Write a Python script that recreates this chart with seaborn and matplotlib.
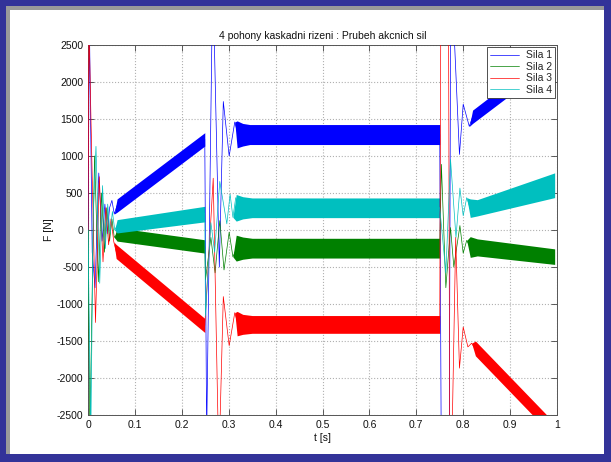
import numpy as np
import pandas as pd
import matplotlib
matplotlib.use("Agg")
import matplotlib.pyplot as plt
import seaborn as sns
from matplotlib.patches import Rectangle

# ---------------- data ----------------
series_names = ["Sila 1", "Sila 2", "Sila 3", "Sila 4"]
series_colors = ["#0000FF", "#008000", "#FF0000", "#00BFBF"]

x_ticks = [0, 0.1, 0.2, 0.3, 0.4, 0.5, 0.6, 0.7, 0.8, 0.9, 1]
x_tick_labels = ["0", "0.1", "0.2", "0.3", "0.4", "0.5", "0.6", "0.7", "0.8", "0.9", "1"]
y_ticks = [-2500, -2000, -1500, -1000, -500, 0, 500, 1000, 1500, 2000, 2500]

# centre traces (thin lines, transients)
sila1_t = [0.000, 0.003, 0.009, 0.015, 0.023, 0.030, 0.036, 0.041, 0.046, 0.051, 0.056, 0.062,
           0.249, 0.253, 0.266, 0.280, 0.2885, 0.301, 0.313, 0.320,
           0.750, 0.7535, 0.770, 0.7735, 0.7755, 0.792, 0.800, 0.813, 0.820, 0.995]
sila1_f = [0, 2800, -300, -780, 770, -150, 350, -50, 300, 400, 216, 330,
           1225, -2800, 3500, -500, 1736, 1000, 1460, 1290,
           1290, -3400, -3400, 3400, 3400, 1021, 1700, 1400, 1530, 2375]

sila2_t = [0.000, 0.004, 0.010, 0.014, 0.022, 0.029, 0.035, 0.040, 0.046, 0.051, 0.056, 0.062,
           0.249, 0.2505, 0.262, 0.271, 0.281, 0.290, 0.301, 0.309, 0.317,
           0.750, 0.7535, 0.763, 0.773, 0.780, 0.793, 0.800, 0.8075, 0.815, 0.995]
sila2_f = [0, -2800, -400, 1000, -700, 500, -300, 300, -150, 150, -100, -60,
           -222, -670, -100, -580, 127, -540, -29, -363, -245,
           -245, 887, -780, 33, -500, 60, -313, -140, -230, -360]

sila3_t = [0.000, 0.002, 0.008, 0.016, 0.024, 0.032, 0.038, 0.044, 0.049, 0.055, 0.060,
           0.249, 0.267, 0.279, 0.2885, 0.301, 0.313, 0.320,
           0.750, 0.7525, 0.7685, 0.7715, 0.7745, 0.784, 0.792, 0.800, 0.810, 0.818, 0.825, 0.995]
sila3_f = [0, 2800, 1000, -1250, 720, -430, 300, -200, 150, -160, -290,
           -1290, 700, -3200, -900, -1563, -1117, -1276,
           -1276, 3400, 3400, -3400, -3400, -100, -1867, -1311, -1580, -1530, -1600, -2710]

sila4_t = [0.000, 0.006, 0.011, 0.017, 0.025, 0.031, 0.037, 0.042, 0.047, 0.052, 0.057, 0.062,
           0.249, 0.2505, 0.262, 0.270, 0.281, 0.296, 0.303, 0.309, 0.315, 0.322,
           0.750, 0.763, 0.773, 0.7846, 0.793, 0.800, 0.8075, 0.815, 0.995]
sila4_f = [0, -2800, 200, 1130, -720, 600, -250, 350, -50, 250, 0, 60,
           224, -1163, 100, -300, 657, 83, 483, 171, 437, 300,
           300, -580, 953, -100, 567, 193, 437, 290, 605]

# oscillation envelopes (thick bands): segments of time, lower, upper
sila1_band_t = [[0.056, 0.062, 0.249], [0.313, 0.318, 0.330, 0.345, 0.750], [0.813, 0.820, 0.995]]
sila1_band_lo = [[216, 240, 1135], [1460, 1110, 1135, 1155, 1155], [1400, 1440, 2280]]
sila1_band_hi = [[216, 420, 1315], [1460, 1475, 1440, 1425, 1425], [1400, 1620, 2470]]

sila2_band_t = [[0.056, 0.062, 0.249], [0.309, 0.316, 0.330, 0.350, 0.750], [0.8075, 0.815, 0.830, 0.995]]
sila2_band_lo = [[-100, -150, -312], [-363, -420, -395, -379, -379], [-140, -370, -350, -465]]
sila2_band_hi = [[-100, 30, -132], [-363, -70, -95, -112, -112], [-140, -90, -120, -255]]

sila3_band_t = [[0.055, 0.060, 0.249], [0.313, 0.318, 0.330, 0.350, 0.750], [0.818, 0.826, 0.995]]
sila3_band_lo = [[-160, -385, -1385], [-1117, -1430, -1410, -1396, -1396], [-1530, -1700, -2810]]
sila3_band_hi = [[-160, -195, -1195], [-1117, -1100, -1140, -1156, -1156], [-1530, -1500, -2610]]

sila4_band_t = [[0.057, 0.062, 0.249], [0.309, 0.316, 0.330, 0.350, 0.750], [0.8075, 0.815, 0.830, 0.995]]
sila4_band_lo = [[0, -40, 110], [171, 120, 150, 167, 167], [437, 170, 190, 438]]
sila4_band_hi = [[0, 140, 320], [171, 480, 450, 433, 433], [437, 420, 410, 772]]

# ---------------- build tables ----------------
traces = [(sila1_t, sila1_f), (sila2_t, sila2_f), (sila3_t, sila3_f), (sila4_t, sila4_f)]
bands = [(sila1_band_t, sila1_band_lo, sila1_band_hi),
         (sila2_band_t, sila2_band_lo, sila2_band_hi),
         (sila3_band_t, sila3_band_lo, sila3_band_hi),
         (sila4_band_t, sila4_band_lo, sila4_band_hi)]

frames = []
for name, (tt, ff) in zip(series_names, traces):
    frames.append(pd.DataFrame({"t": tt, "F": ff, "series": name}))
df = pd.concat(frames, ignore_index=True)

# ---------------- figure ----------------
sns.set_style("ticks")
plt.rcParams["font.family"] = ["Liberation Sans", "DejaVu Sans"]

W, H = 611, 462
fig = plt.figure(figsize=(W / 100, H / 100), dpi=100)
fig.patch.set_facecolor("#333399")

# background panel (white sheet with grey shadow) in its own axes
bg = fig.add_axes([0, 0, 1, 1], zorder=-10)
bg.set_xlim(0, W)
bg.set_ylim(H, 0)
bg.axis("off")
bg.add_patch(Rectangle((6, 6), 598, 448, facecolor="#9a9a9a", edgecolor="none"))
bg.add_patch(Rectangle((10, 10), 594, 444, facecolor="#ffffff", edgecolor="none"))

ax = fig.add_axes([88 / W, 1 - 415 / H, (557 - 88) / W, (415 - 45) / H], zorder=1)
ax.set_facecolor("white")

for (bt, blo, bhi), col in zip(bands, series_colors):
    for st, slo, shi in zip(bt, blo, bhi):
        ax.fill_between(st, slo, shi, color=col, linewidth=0, zorder=2)

sns.lineplot(data=df, x="t", y="F", hue="series", hue_order=series_names,
             palette=series_colors, estimator=None, sort=False, linewidth=0.5,
             ax=ax, zorder=3)

ax.set_xlim(0, 1)
ax.set_ylim(-2500, 2500)
ax.set_xticks(x_ticks)
ax.set_xticklabels(x_tick_labels)
ax.set_yticks(y_ticks)
ax.set_yticklabels([str(v) for v in y_ticks])
ax.tick_params(direction="in", length=4, width=0.6, labelsize=7.5, pad=3.5,
               top=True, right=True, colors="#444444", labelcolor="#111111")
ax.grid(True, linestyle=":", color="#b0b0b0", linewidth=0.8)
ax.set_axisbelow(True)
for sp in ax.spines.values():
    sp.set_visible(True)
    sp.set_color("#555555")
    sp.set_linewidth(0.7)

ax.set_title("4 pohony kaskadni rizeni : Prubeh akcnich sil", fontsize=7.5, pad=4, color="#111111")
ax.set_xlabel("t [s]", fontsize=7.5, labelpad=2, color="#111111")
ax.set_ylabel("F [N]", fontsize=7.5, labelpad=2, color="#111111")

handles, labels = ax.get_legend_handles_labels()
leg = ax.legend(handles, labels, loc="upper right", fontsize=7.5, frameon=True,
                fancybox=False, framealpha=1, edgecolor="#333333",
                borderaxespad=0.2, labelspacing=0.15, handlelength=2.8,
                handletextpad=0.6, borderpad=0.3)
leg.get_frame().set_linewidth(0.6)
for line in leg.get_lines():
    line.set_linewidth(0.5)

fig.savefig("out.png", dpi=100, facecolor=fig.get_facecolor())
